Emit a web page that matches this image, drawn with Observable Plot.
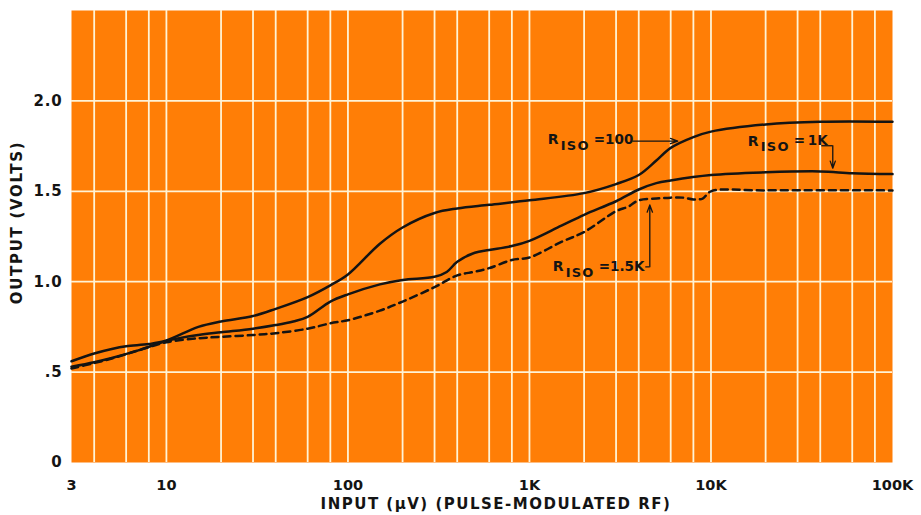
<!DOCTYPE html>
<html>
<head>
<meta charset="utf-8">
<script src="https://cdn.jsdelivr.net/npm/d3@7"></script>
<script src="https://cdn.jsdelivr.net/npm/@observablehq/plot@0.6"></script>
<style>
  html, body { margin: 0; padding: 0; background: #fff; }
  #chart svg { display: block; }
</style>
</head>
<body>
<div id="chart"></div>
<script>
// ---- Data ----
const xTicks = [3, 10, 100, 1000, 10000, 100000];
const xTickLabels = ["3", "10", "100", "1K", "10K", "100K"];
const yTicks = [0, 0.5, 1.0, 1.5, 2.0];
const yTickLabels = ["0", ".5", "1.0", "1.5", "2.0"];
const xGrid = [4, 6, 8, 10, 20, 30, 40, 60, 80, 100, 200, 300, 400, 600, 800,
  1000, 2000, 3000, 4000, 6000, 8000, 10000, 20000, 30000, 40000, 60000, 80000];
const yGrid = [0.5, 1.0, 1.5, 2.0];

const r100X = [3, 4, 5, 6, 8, 10, 15, 20, 30, 40, 60, 80, 100, 150, 200, 300, 400, 600,
  1000, 2000, 3000, 4000, 5000, 6000, 8000, 10000, 20000, 40000, 100000];
const r100Y = [0.56, 0.603, 0.628, 0.643, 0.655, 0.675, 0.75, 0.78, 0.81, 0.85, 0.915, 0.98, 1.04, 1.21, 1.30, 1.38, 1.405, 1.425,
  1.45, 1.49, 1.54, 1.59, 1.67, 1.74, 1.80, 1.83, 1.87, 1.885, 1.885];

const r1kX = [3, 4, 5, 7, 10, 15, 20, 30, 40, 50, 60, 80, 100, 150, 200, 300, 350, 400, 500, 600,
  800, 1000, 1500, 2000, 3000, 4000, 5000, 6000, 10000, 20000, 40000, 60000, 100000];
const r1kY = [0.53, 0.555, 0.578, 0.62, 0.672, 0.705, 0.72, 0.74, 0.76, 0.78, 0.805, 0.89, 0.93, 0.985, 1.01, 1.027, 1.054, 1.11, 1.16, 1.175,
  1.197, 1.226, 1.31, 1.37, 1.445, 1.51, 1.545, 1.56, 1.59, 1.605, 1.61, 1.60, 1.595];

const r15kX = [3, 4, 5, 7, 10, 15, 20, 30, 40, 60, 80, 100, 150, 200, 300, 400, 500, 600, 800,
  1000, 1500, 2000, 3000, 3500, 4000, 5000, 6000, 7000, 8000, 9000, 10000, 20000, 100000];
const r15kY = [0.52, 0.55, 0.575, 0.62, 0.665, 0.687, 0.695, 0.705, 0.715, 0.74, 0.77, 0.787, 0.84, 0.89, 0.97, 1.035, 1.055, 1.075, 1.12,
  1.134, 1.22, 1.275, 1.39, 1.415, 1.45, 1.46, 1.465, 1.465, 1.455, 1.46, 1.50, 1.505, 1.505];

// annotations: label anchors (start of "R"), leader hooks and arrows
const annoX = [1262, 15950, 1344];
const annoY = [1.784, 1.778, 1.082];
const annoSub = ["ISO", "ISO", "ISO"];
const annoValue = ["=100", "=\u20091K", "=1.5K"];
const arrowX1 = [3710, 46880, 4603];
const arrowY1 = [1.778, 1.752, 1.082];
const arrowX2 = [6564, 46880, 4603];
const arrowY2 = [1.778, 1.628, 1.425];
const hookX1 = [40790, 4374];
const hookX2 = [46880, 4603];
const hookY = [1.752, 1.082];

const xLabel = "INPUT (\u00B5V) (PULSE-MODULATED RF)";
const yLabel = "OUTPUT (VOLTS)";

// ---- Build tables ----
const toRows = (xs, ys) => xs.map((x, i) => ({x, y: ys[i]}));
const r100 = toRows(r100X, r100Y);
const r1k = toRows(r1kX, r1kY);
const r15k = toRows(r15kX, r15kY);
const annos = annoX.map((x, i) => ({x, y: annoY[i], sub: annoSub[i], val: annoValue[i]}));
const arrows = arrowX1.map((x1, i) => ({x1, y1: arrowY1[i], x2: arrowX2[i], y2: arrowY2[i]}));
const hooks = hookX1.map((x1, i) => ({x1, x2: hookX2[i], y: hookY[i]}));
const xTickRows = xTicks.map((x, i) => ({x, label: xTickLabels[i]}));
const yTickRows = yTicks.map((y, i) => ({y, label: yTickLabels[i]}));

const ORANGE = "#FF7E06";
const GRID = "#FFF3D6";
const INK = "#141414";
const FONT = "'DejaVu Sans', 'Open Sans', sans-serif";

const chart = Plot.plot({
  width: 921,
  height: 515,
  marginLeft: 71,
  marginRight: 29,
  marginTop: 10,
  marginBottom: 53,
  style: {fontFamily: FONT, fontSize: "14px", fontWeight: 700, color: INK, background: "#fff"},
  x: {type: "log", domain: [3, 100000], axis: null},
  y: {domain: [0, 2.5], axis: null},
  marks: [
    Plot.frame({fill: ORANGE, stroke: null}),
    Plot.ruleX(xGrid, {stroke: GRID, strokeWidth: 1.8}),
    Plot.ruleY(yGrid, {stroke: GRID, strokeWidth: 1.8}),
    Plot.line(r100, {x: "x", y: "y", curve: "catmull-rom", stroke: INK, strokeWidth: 2.5}),
    Plot.line(r1k, {x: "x", y: "y", curve: "catmull-rom", stroke: INK, strokeWidth: 2.5}),
    Plot.line(r15k, {x: "x", y: "y", curve: "catmull-rom", stroke: INK, strokeWidth: 2.5, strokeDasharray: "7,5"}),
    Plot.ruleY(hooks, {x1: "x1", x2: "x2", y: "y", stroke: INK, strokeWidth: 1.3}),
    Plot.arrow(arrows, {x1: "x1", y1: "y1", x2: "x2", y2: "y2", stroke: INK, strokeWidth: 1.3, headLength: 9, headAngle: 40}),
    Plot.text(annos, {x: "x", y: "y", text: () => "R", textAnchor: "start", fontSize: 14, fill: INK}),
    Plot.text(annos, {x: "x", y: "y", text: "sub", textAnchor: "start", dx: 13, dy: 6, fontSize: 13, fill: INK}),
    Plot.text(annos, {x: "x", y: "y", text: "val", textAnchor: "start", dx: 46, fontSize: 13.5, fill: INK}),
    Plot.text(xTickRows, {x: "x", text: "label", frameAnchor: "bottom", dy: 27, fontSize: 14.5, fill: INK}),
    Plot.text(yTickRows, {y: "y", text: "label", frameAnchor: "left", textAnchor: "end", dx: -9, fontSize: 15, fill: INK}),
    Plot.text([xLabel], {frameAnchor: "bottom", textAnchor: "middle", dx: 14, dy: 46, fontSize: 15, fill: INK}),
    Plot.text([yLabel], {frameAnchor: "left", textAnchor: "middle", rotate: -90, dx: -54, dy: -14, fontSize: 15, fill: INK})
  ]
});

// letter-spacing tweaks for the typewriter-like wide lettering
const spacing = new Map([[xLabel, "1.5px"], [yLabel, "1.7px"], ["ISO", "1.2px"]]);
yTickLabels.forEach(t => spacing.set(t, "0.8px"));
d3.select(chart).selectAll("text").each(function() {
  const s = spacing.get(this.textContent);
  if (s) this.setAttribute("letter-spacing", s);
});
document.getElementById("chart").appendChild(chart);
</script>
</body>
</html>
